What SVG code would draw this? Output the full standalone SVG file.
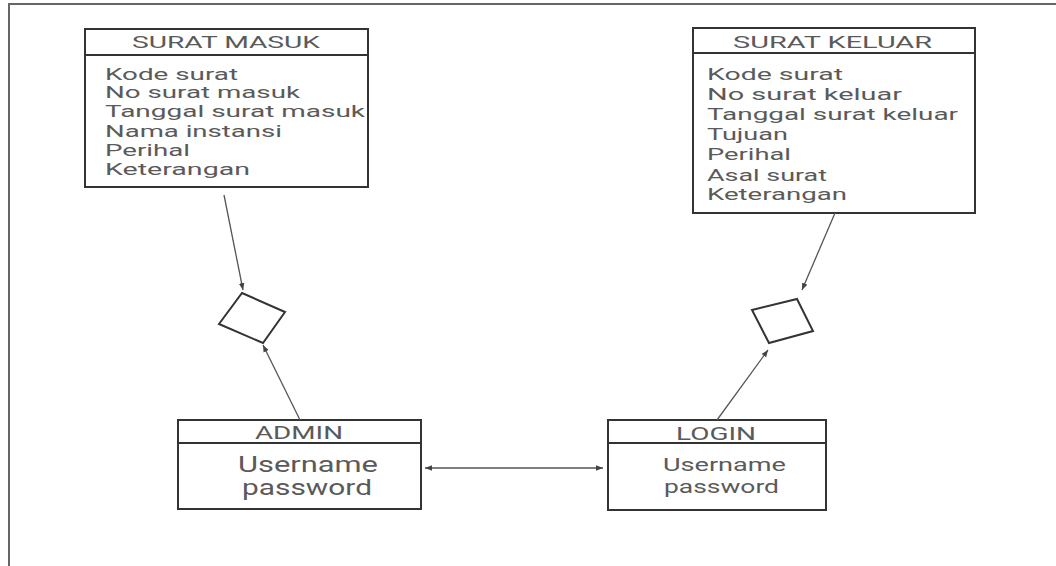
<svg xmlns="http://www.w3.org/2000/svg" width="1056" height="566" viewBox="0 0 1056 566">
<style>
.box{fill:#fff;stroke:#333;stroke-width:2}
.frame{fill:none;stroke:#666;stroke-width:2}
.t{font-family:Roboto,"Liberation Sans",sans-serif;fill:#5a5a5a}
.h{font-size:17px}
.b{font-size:17px}
.conn{fill:none;stroke:#555;stroke-width:1.3}
.dia{fill:#fff;stroke:#333;stroke-width:2}
</style>
<defs>
<marker id="arr" viewBox="0 0 10 10" refX="10" refY="5" markerWidth="7" markerHeight="7" markerUnits="userSpaceOnUse" orient="auto-start-reverse">
<path d="M0,1 L10,5 L0,9 z" fill="#444"/>
</marker>
</defs>
<rect width="1056" height="566" fill="#fff"/>
<path class="frame" d="M9,566 V4 H1056"/>

<g id="surat-masuk">
<rect class="box" x="85" y="29" width="283" height="158"/>
<line class="box" x1="85" y1="55" x2="368" y2="55"/>
<text class="t h" x="132" y="48" textLength="188" lengthAdjust="spacingAndGlyphs">SURAT MASUK</text>
<text class="t b" x="105" y="80" textLength="133" lengthAdjust="spacingAndGlyphs">Kode surat</text>
<text class="t b" x="105" y="98" textLength="195" lengthAdjust="spacingAndGlyphs">No surat masuk</text>
<text class="t b" x="105" y="117" textLength="260" lengthAdjust="spacingAndGlyphs">Tanggal surat masuk</text>
<text class="t b" x="105" y="137" textLength="177" lengthAdjust="spacingAndGlyphs">Nama instansi</text>
<text class="t b" x="105" y="156" textLength="85" lengthAdjust="spacingAndGlyphs">Perihal</text>
<text class="t b" x="105" y="175" textLength="145" lengthAdjust="spacingAndGlyphs">Keterangan</text>
</g>

<g id="surat-keluar">
<rect class="box" x="693" y="28" width="282" height="185"/>
<line class="box" x1="693" y1="53" x2="975" y2="53"/>
<text class="t h" x="733" y="48" textLength="199" lengthAdjust="spacingAndGlyphs">SURAT KELUAR</text>
<text class="t b" x="707" y="80" textLength="136" lengthAdjust="spacingAndGlyphs">Kode surat</text>
<text class="t b" x="707" y="100" textLength="195" lengthAdjust="spacingAndGlyphs">No surat keluar</text>
<text class="t b" x="707" y="120" textLength="251" lengthAdjust="spacingAndGlyphs">Tanggal surat keluar</text>
<text class="t b" x="707" y="140" textLength="81" lengthAdjust="spacingAndGlyphs">Tujuan</text>
<text class="t b" x="707" y="160" textLength="84" lengthAdjust="spacingAndGlyphs">Perihal</text>
<text class="t b" x="707" y="181" textLength="120" lengthAdjust="spacingAndGlyphs">Asal surat</text>
<text class="t b" x="707" y="200" textLength="140" lengthAdjust="spacingAndGlyphs">Keterangan</text>
</g>

<g id="admin">
<rect class="box" x="178" y="420" width="243" height="89"/>
<line class="box" x1="178" y1="443" x2="421" y2="443"/>
<text class="t" font-size="19" x="255" y="439" textLength="88" lengthAdjust="spacingAndGlyphs">ADMIN</text>
<text class="t" font-size="22" x="238" y="472" textLength="140" lengthAdjust="spacingAndGlyphs">Username</text>
<text class="t" font-size="22" x="242" y="495" textLength="130" lengthAdjust="spacingAndGlyphs">password</text>
</g>

<g id="login">
<rect class="box" x="608" y="420" width="218" height="90"/>
<line class="box" x1="608" y1="443" x2="826" y2="443"/>
<text class="t" font-size="19" x="676" y="440" textLength="80" lengthAdjust="spacingAndGlyphs">LOGIN</text>
<text class="t" font-size="19" x="663" y="471" textLength="123" lengthAdjust="spacingAndGlyphs">Username</text>
<text class="t" font-size="19" x="664" y="493" textLength="115" lengthAdjust="spacingAndGlyphs">password</text>
</g>

<g id="rel-masuk">
<polygon class="dia" points="242,293 285,312 263,343 219,324"/>
</g>

<g id="rel-keluar">
<polygon class="dia" points="752,310 797,299 813,331 769,343"/>
</g>

<g id="connectors">
<line class="conn" x1="224" y1="195" x2="243" y2="290" marker-end="url(#arr)"/>
<line class="conn" x1="300" y1="420" x2="263" y2="345" marker-end="url(#arr)"/>
<line class="conn" x1="835" y1="213" x2="802" y2="290" marker-end="url(#arr)"/>
<line class="conn" x1="717" y1="420" x2="768" y2="350" marker-end="url(#arr)"/>
<line class="conn" x1="425" y1="468" x2="603" y2="468" marker-start="url(#arr)" marker-end="url(#arr)"/>
</g>
</svg>
